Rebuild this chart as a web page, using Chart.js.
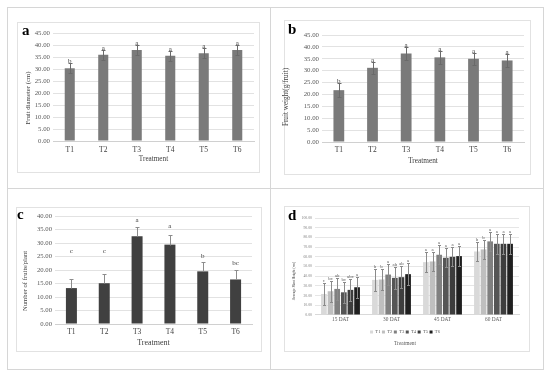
<!DOCTYPE html>
<html>
<head>
<meta charset="utf-8">
<script src="https://cdn.jsdelivr.net/npm/chart.js@4.4.1/dist/chart.umd.min.js"></script>
<style>
html,body{margin:0;padding:0;background:#fff;}
#page{position:relative;width:550px;height:378px;overflow:hidden;background:#fff;}
.line{position:absolute;background:#d6d6d6;}
.box{position:absolute;box-sizing:border-box;border:1px solid #e2e2e2;}
canvas{position:absolute;}
.tag{position:absolute;font-family:"Liberation Serif",serif;font-weight:bold;font-size:15px;line-height:15px;color:#000;}
</style>
</head>
<body>
<div id="page">

    <div class="line" style="left:7px;top:7px;width:537px;height:1px"></div>
    <div class="line" style="left:7px;top:369px;width:537px;height:1px"></div>
    <div class="line" style="left:7px;top:7px;width:1px;height:363px"></div>
    <div class="line" style="left:543px;top:7px;width:1px;height:363px"></div>
    <div class="line" style="left:270px;top:7px;width:1px;height:363px"></div>
    <div class="line" style="left:7px;top:188px;width:537px;height:1px"></div>

    <div class="box" style="left:17px;top:22px;width:243px;height:151px"></div>
    <div class="box" style="left:284px;top:20px;width:247px;height:155px"></div>
    <div class="box" style="left:16px;top:207px;width:246px;height:145px"></div>
    <div class="box" style="left:284px;top:206px;width:246px;height:146px"></div>

    <canvas id="chartA" width="271" height="189" style="left:0;top:0"></canvas>
    <canvas id="chartB" width="279" height="189" style="left:271px;top:0"></canvas>
    <canvas id="chartC" width="271" height="189" style="left:0;top:189px"></canvas>
    <canvas id="chartD" width="279" height="189" style="left:271px;top:189px"></canvas>

    <div class="tag" style="left:22px;top:23px">a</div>
    <div class="tag" style="left:288px;top:22px">b</div>
    <div class="tag" style="left:17px;top:207px">c</div>
    <div class="tag" style="left:288px;top:208px">d</div>
</div>

<script>
Chart.defaults.font.family = "'Liberation Serif', 'Times New Roman', serif";
Chart.defaults.animation = false;

// data
const treatments = ["T1","T2","T3","T4","T5","T6"];

const diameterValues = [30.3, 35.9, 37.9, 35.5, 36.6, 37.9];
const diameterErrors = [2.0, 2.0, 2.0, 2.0, 2.0, 2.0];
const diameterLetters = ["b","a","a","a","a","a"];

const weightValues = [21.8, 31.2, 37.2, 35.6, 35.0, 34.3];
const weightErrors = [3.0, 2.6, 2.6, 2.6, 2.6, 2.6];
const weightLetters = ["b","a","a","a","a","a"];

const fruitValues = [13.3, 15.1, 32.5, 29.4, 19.5, 16.5];
const fruitErrors = [3.5, 3.4, 3.4, 3.5, 3.4, 3.4];
const fruitLetters = ["c","c","a","a","b","bc"];
const fruitLetterLevels = [26.9, 26.9, 38.5, 36.4, 25.3, 22.6];

const stages = ["15 DAT","30 DAT","45 DAT","60 DAT"];

const heightT1 = [21.7, 36.2, 54.5, 65.5];
const heightT2 = [24.5, 36.6, 55.2, 67.6];
const heightT3 = [26.9, 41.7, 62.1, 75.9];
const heightT4 = [23.4, 38.3, 59.0, 73.4];
const heightT5 = [25.9, 39.0, 60.0, 73.4];
const heightT6 = [28.6, 42.1, 60.7, 73.4];

const heightErrT1 = [11, 11, 10, 10];
const heightErrT2 = [11, 11, 10, 10];
const heightErrT3 = [11, 11, 10, 10];
const heightErrT4 = [11, 11, 10, 10];
const heightErrT5 = [11, 11, 10, 10];
const heightErrT6 = [11, 11, 10, 10];

const heightLetT1 = ["c","b","a","b"];
const heightLetT2 = ["bc","b","a","b"];
const heightLetT3 = ["ab","a","a","a"];
const heightLetT4 = ["bc","ab","a","a"];
const heightLetT5 = ["abc","ab","a","a"];
const heightLetT6 = ["a","a","a","a"];

const heightColors = ["#d9d9d9","#bfbfbf","#808080","#555555","#3d3d3d","#1f1f1f"];

// error bars, letters and rotated y title
const errorBars = {
    id:"errorBars",
    afterDatasetsDraw(chart, args, opts){

        const ctx = chart.ctx;
        const yAxis = chart.scales.y;

        chart.data.datasets.forEach((ds, i)=>{

            const meta = chart.getDatasetMeta(i);

            meta.data.forEach((bar, j)=>{

                const value = ds.data[j];
                const err = ds.errors[j];
                const x = Math.round(bar.x) + 0.5;
                const top = Math.round(yAxis.getPixelForValue(value + err)) + 0.5;
                const bottom = Math.round(
                    yAxis.getPixelForValue(opts.plusOnly ? value : value - err)
                ) + 0.5;

                ctx.save();
                ctx.strokeStyle = opts.color;
                ctx.lineWidth = 1;
                ctx.beginPath();
                ctx.moveTo(x, bottom);
                ctx.lineTo(x, top);
                ctx.moveTo(x - opts.cap, top);
                ctx.lineTo(x + opts.cap, top);
                if(!opts.plusOnly){
                    ctx.moveTo(x - opts.cap, bottom);
                    ctx.lineTo(x + opts.cap, bottom);
                }
                ctx.stroke();

                ctx.fillStyle = opts.letterColor;
                ctx.font = opts.letterSize + "px 'Liberation Serif'";
                ctx.textAlign = "center";

                if(ds.letterLevels){
                    ctx.textBaseline = "middle";
                    ctx.fillText(ds.letters[j], bar.x, yAxis.getPixelForValue(ds.letterLevels[j]));
                }else{
                    ctx.textBaseline = "alphabetic";
                    ctx.fillText(ds.letters[j], bar.x, top + opts.letterGap);
                }
                ctx.restore();
            });
        });

        const t = opts.yTitle;
        ctx.save();
        ctx.translate(t.x, t.y);
        ctx.rotate(-Math.PI / 2);
        ctx.font = t.size + "px 'Liberation Serif'";
        ctx.fillStyle = "#404040";
        ctx.textAlign = "center";
        ctx.textBaseline = "middle";
        ctx.fillText(t.text, 0, 0);
        ctx.restore();
    }
};

function makeTreatmentChart(id, values, errors, letters, levels, s){

    const canvas = document.getElementById(id);
    const H = canvas.height;
    const W = canvas.width;
    const lh = s.titleFont * 1.2;
    const scaleBottom = s.titleY + lh / 2;

    return new Chart(canvas, {
        type:"bar",
        data:{
            labels:treatments,
            datasets:[{
                data:values,
                errors:errors,
                letters:letters,
                letterLevels:levels,
                backgroundColor:s.color,
                barPercentage:s.barWidth,
                categoryPercentage:1
            }]
        },
        options:{
            responsive:false,
            layout:{
                padding:{left:0, top:s.plot.top, right:W - s.plot.right, bottom:H - scaleBottom}
            },
            plugins:{
                legend:{display:false},
                tooltip:{enabled:false},
                errorBars:{
                    color:s.errColor,
                    cap:s.cap,
                    plusOnly:s.plusOnly,
                    letterSize:s.letterSize,
                    letterGap:s.letterGap,
                    letterColor:"#404040",
                    yTitle:s.yTitle
                }
            },
            scales:{
                x:{
                    ticks:{font:{size:s.xFont}, color:"#404040", padding:s.xPad},
                    grid:{display:false, drawTicks:false},
                    border:{color:"#d0d0d0"},
                    title:{display:true, text:"Treatment", font:{size:s.titleFont}, color:"#404040", padding:0},
                    afterFit:scale=>{ scale.height = scaleBottom - s.plot.bottom; }
                },
                y:{
                    min:0,
                    max:s.yMax,
                    ticks:{stepSize:5, font:{size:s.yFont}, color:"#595959", padding:3,
                        callback:v=>v.toFixed(2)},
                    grid:{color:"#e2e2e2", drawTicks:false},
                    border:{display:false},
                    afterFit:scale=>{ scale.width = s.plot.left; }
                }
            }
        },
        plugins:[errorBars]
    });
}

makeTreatmentChart("chartA", diameterValues, diameterErrors, diameterLetters, null, {
    plot:{left:53, top:33, right:254, bottom:141},
    titleY:159, titleFont:7.2,
    xFont:7.5, xPad:4.5, yFont:6.8, yMax:45,
    color:"#7a7a7a", barWidth:0.3,
    errColor:"#6a6a6a", cap:2, plusOnly:false,
    letterSize:7, letterGap:-1,
    yTitle:{text:"Fruit diameter (cm)", x:28, y:98, size:6.8}
});

makeTreatmentChart("chartB", weightValues, weightErrors, weightLetters, null, {
    plot:{left:51, top:35, right:253, bottom:142},
    titleY:161, titleFont:7.3,
    xFont:7.5, xPad:3.5, yFont:6.8, yMax:45,
    color:"#7a7a7a", barWidth:0.32,
    errColor:"#6a6a6a", cap:2, plusOnly:false,
    letterSize:7, letterGap:-1,
    yTitle:{text:"Fruit weight(g/fruit)", x:15, y:97, size:7.2}
});

makeTreatmentChart("chartC", fruitValues, fruitErrors, fruitLetters, fruitLetterLevels, {
    plot:{left:55, top:27, right:252, bottom:135},
    titleY:154, titleFont:8,
    xFont:7.5, xPad:3.8, yFont:6.7, yMax:40,
    color:"#404040", barWidth:0.335,
    errColor:"#8c8c8c", cap:2, plusOnly:true,
    letterSize:7, letterGap:0,
    yTitle:{text:"Number of fruits/plant", x:25.5, y:92, size:6.7}
});

function makeHeightChart(){

    const values = [heightT1, heightT2, heightT3, heightT4, heightT5, heightT6];
    const errors = [heightErrT1, heightErrT2, heightErrT3, heightErrT4, heightErrT5, heightErrT6];
    const letters = [heightLetT1, heightLetT2, heightLetT3, heightLetT4, heightLetT5, heightLetT6];

    const datasets = treatments.map((name, i)=>({
        label:name,
        data:values[i],
        errors:errors[i],
        letters:letters[i],
        backgroundColor:heightColors[i],
        barPercentage:0.86,
        categoryPercentage:0.78
    }));

    const canvas = document.getElementById("chartD");
    const plot = {left:44, top:29, right:248, bottom:126};
    const padLeft = 20;
    const xHeight = 13.2;
    const legendHeight = 10;
    const titlePad = 2.6;
    const titleFont = 5.4;
    const used = plot.bottom + xHeight + legendHeight + titlePad + titleFont * 1.2;

    return new Chart(canvas, {
        type:"bar",
        data:{labels:stages, datasets},
        options:{
            responsive:false,
            layout:{
                padding:{left:padLeft, top:plot.top, right:canvas.width - plot.right, bottom:canvas.height - used}
            },
            plugins:{
                tooltip:{enabled:false},
                legend:{
                    display:true,
                    position:"bottom",
                    maxHeight:legendHeight,
                    labels:{boxWidth:3, boxHeight:3, font:{size:4.6}, color:"#595959", padding:1.5}
                },
                title:{
                    display:true,
                    position:"bottom",
                    text:"Treatment",
                    font:{size:titleFont, weight:"normal"},
                    color:"#595959",
                    padding:{top:titlePad, bottom:0}
                },
                errorBars:{
                    color:"#8a8a8a",
                    cap:1.5,
                    plusOnly:false,
                    letterSize:4.8,
                    letterGap:-2,
                    letterColor:"#595959",
                    yTitle:{text:"Average Plant Height (cm)", x:23, y:92, size:3.6}
                }
            },
            scales:{
                x:{
                    ticks:{font:{size:5.3}, color:"#595959", padding:1.7},
                    grid:{display:false, drawTicks:false},
                    border:{color:"#d9d9d9"},
                    afterFit:scale=>{ scale.height = xHeight; }
                },
                y:{
                    min:0,
                    max:100,
                    ticks:{stepSize:10, font:{size:3.8}, color:"#7f7f7f", padding:3,
                        callback:v=>v.toFixed(2)},
                    grid:{color:"#e6e6e6", drawTicks:false},
                    border:{display:false},
                    afterFit:scale=>{ scale.width = plot.left - padLeft; }
                }
            }
        },
        plugins:[errorBars]
    });
}

makeHeightChart();
</script>
</body>
</html>
